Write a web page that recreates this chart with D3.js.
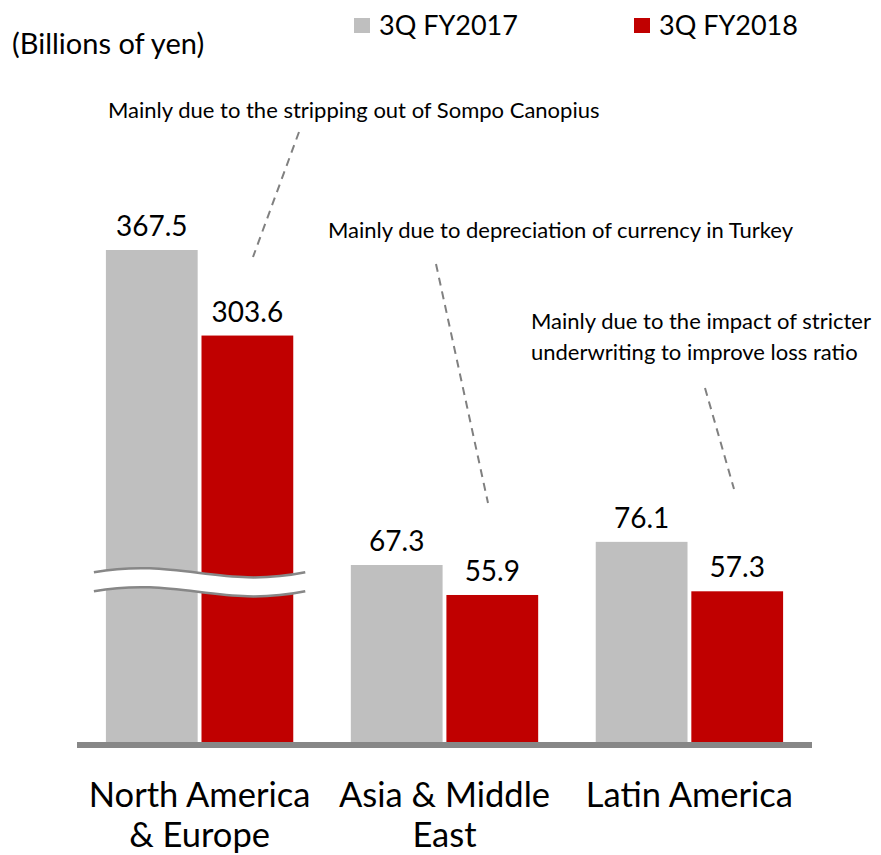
<!DOCTYPE html>
<html>
<head>
<meta charset="utf-8">
<script src="https://cdn.jsdelivr.net/npm/d3@7"></script>
<style>
  html, body { margin: 0; padding: 0; background: #fff; }
  svg { display: block; font-family: Lato, "Open Sans", sans-serif; }
</style>
</head>
<body>
<svg id="chart" width="881" height="855"></svg>
<script>
// Overseas insurance premiums by region (billions of yen)
const categories = ["North America\n& Europe", "Asia & Middle\nEast", "Latin America"];
const seriesNames = ["3Q FY2017", "3Q FY2018"];
const seriesColors = ["#bfbfbf", "#c00000"];
const fy2017 = [367.5, 67.3, 76.1];
const fy2018 = [303.6, 55.9, 57.3];
const brokenAxis = [true, false, false];   // bars drawn on the compressed scale
const breakValue = 61.5;                   // where the wavy break sits (regular scale)
const notes = [
  { lines: ["Mainly due to the stripping out of Sompo Canopius"], x: 108, y: 118, from: [299, 132], to: [253, 257] },
  { lines: ["Mainly due to depreciation of currency in Turkey"], x: 328, y: 238, from: [436, 264], to: [488, 503] },
  { lines: ["Mainly due to the impact of stricter", "underwriting to improve loss ratio"], x: 531, y: 329, from: [705, 388], to: [734, 489] }
];

const svg = d3.select("#chart");
const baseY = 742;

const x = d3.scaleBand().domain(categories).range([77, 812]).paddingInner(0.235).paddingOuter(0.118);
const xs = d3.scaleBand().domain(seriesNames).range([0, x.bandwidth()]).paddingInner(0.04);
const y = d3.scaleLinear().domain([0, 100]).range([baseY, baseY - 263]);
const yBroken = d3.scaleLinear().domain([0, 367.5]).range([baseY, 250]);

const rows = categories.map((c, i) => ({
  cat: c, broken: brokenAxis[i],
  vals: [fy2017[i], fy2018[i]].map((v, k) => ({ s: seriesNames[k], v, color: seriesColors[k] }))
}));

// Bars
const g = svg.append("g").selectAll("g").data(rows).join("g")
  .attr("transform", d => `translate(${x(d.cat)},0)`);
g.selectAll("rect").data(d => d.vals.map(v => ({ ...v, broken: d.broken }))).join("rect")
  .attr("x", d => xs(d.s))
  .attr("width", xs.bandwidth())
  .attr("y", d => (d.broken ? yBroken : y)(d.v))
  .attr("height", d => baseY - (d.broken ? yBroken : y)(d.v))
  .attr("fill", d => d.color);
g.selectAll("text.val").data(d => d.vals.map(v => ({ ...v, broken: d.broken }))).join("text")
  .attr("class", "val")
  .attr("x", d => xs(d.s) + xs.bandwidth() / 2)
  .attr("y", d => (d.broken ? yBroken : y)(d.v) - 14)
  .attr("text-anchor", "middle")
  .attr("font-size", 28)
  .attr("fill", "#000")
  .text(d => d.v.toFixed(1));

// Wavy break across the compressed bars
rows.filter(d => d.broken).forEach(d => {
  const x0 = x(d.cat) - 12, x1 = x(d.cat) + x.bandwidth() + 12;
  const w = x1 - x0, cy = y(breakValue) - 8, h = 19;
  const wave = (dy) => `M${x0},${cy + dy} C${x0 + w * 0.4},${cy - 15 + dy} ${x0 + w * 0.6},${cy + 17 + dy} ${x1},${cy + dy}`;
  const waveBack = (dy) => `C${x0 + w * 0.6},${cy + 17 + dy} ${x0 + w * 0.4},${cy - 15 + dy} ${x0},${cy + dy}`;
  svg.append("path")
    .attr("d", wave(0) + ` L${x1},${cy + h} ` + waveBack(h) + " Z")
    .attr("fill", "#fff");
  [0, h].forEach(dy => svg.append("path")
    .attr("d", wave(dy)).attr("fill", "none")
    .attr("stroke", "#878787").attr("stroke-width", 2.5));
});

// Baseline
svg.append("line")
  .attr("x1", x.range()[0]).attr("x2", x.range()[1])
  .attr("y1", baseY + 3).attr("y2", baseY + 3)
  .attr("stroke", "#878787").attr("stroke-width", 6);

// Category labels
svg.append("g").selectAll("text").data(categories).join("text")
  .attr("x", d => x(d) + x.bandwidth() / 2)
  .attr("y", 807)
  .attr("text-anchor", "middle")
  .attr("font-size", 34.5)
  .attr("fill", "#000")
  .selectAll("tspan").data(d => d.split("\n")).join("tspan")
  .attr("x", function () { return this.parentNode.getAttribute("x"); })
  .attr("dy", (d, i) => i ? 40 : 0)
  .text(d => d);

// Unit label
svg.append("text").attr("x", 12).attr("y", 54).attr("font-size", 29).attr("fill", "#000").text("(Billions of yen)");

// Legend
const legendX = [354, 634];
seriesNames.forEach((s, i) => {
  svg.append("rect").attr("x", legendX[i]).attr("y", 18).attr("width", 16).attr("height", 15).attr("fill", seriesColors[i]);
  svg.append("text").attr("x", legendX[i] + 25).attr("y", 35).attr("font-size", 27).attr("fill", "#000").text(s);
});

// Annotations with dashed leaders
notes.forEach(n => {
  const t = svg.append("text").attr("font-size", 22).attr("fill", "#000");
  n.lines.forEach((l, i) => t.append("tspan").attr("x", n.x).attr("y", n.y + i * 31).text(l));
  svg.append("line")
    .attr("x1", n.from[0]).attr("y1", n.from[1]).attr("x2", n.to[0]).attr("y2", n.to[1])
    .attr("stroke", "#808080").attr("stroke-width", 2).attr("stroke-dasharray", "8,6");
});
</script>
</body>
</html>
